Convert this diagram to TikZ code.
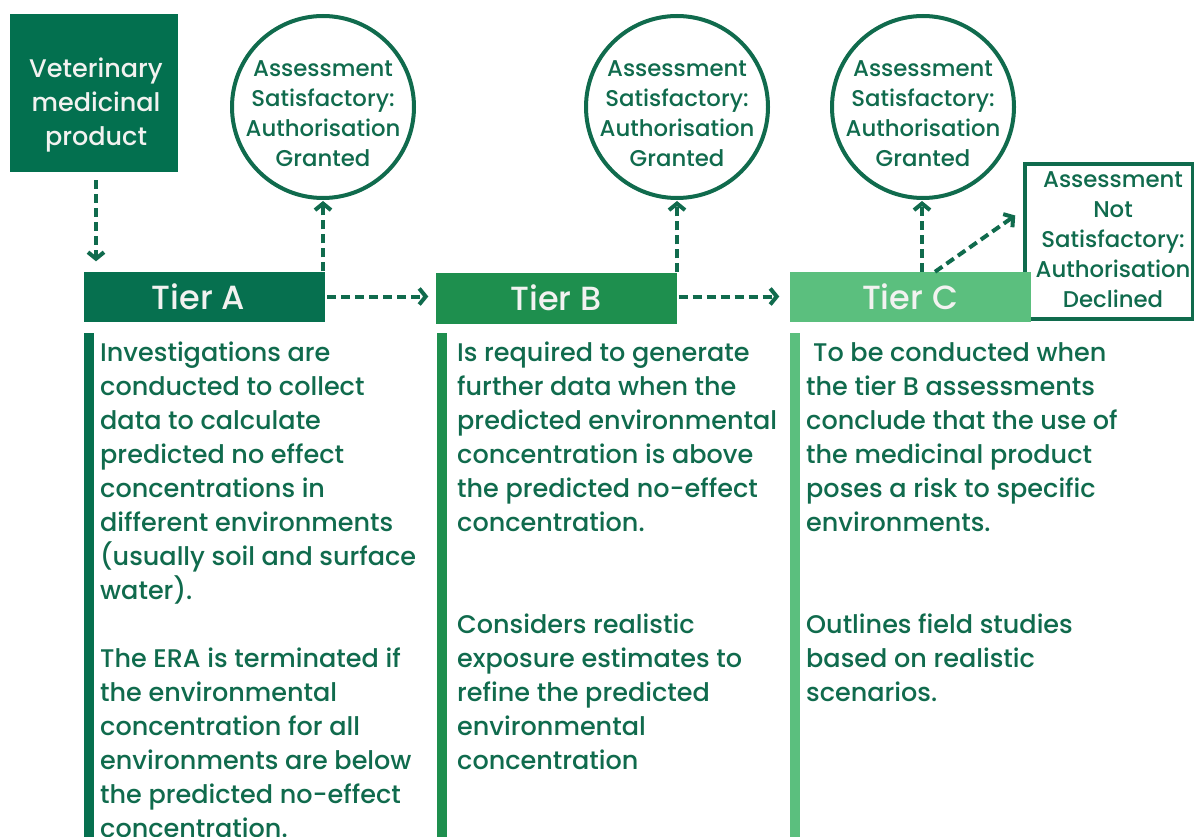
\documentclass[tikz,border=0pt]{standalone}
\usepackage{fontspec}
\IfFontExistsTF{Poppins Medium}{\setmainfont{Poppins Medium}}{\setmainfont{Poppins}}
\usetikzlibrary{arrows.meta}
\definecolor{vmpfill}{HTML}{03704F}
\definecolor{tierAc}{HTML}{06704F}
\definecolor{tierBc}{HTML}{1E8F4E}
\definecolor{tierCc}{HTML}{5BBF7E}
\definecolor{dk}{HTML}{106B4D}
\definecolor{lt}{HTML}{F2F2F0}
\begin{document}
\begin{tikzpicture}[x=1pt,y=-1pt,
  tierbox/.style={minimum width=241pt,minimum height=50pt,inner sep=0pt,text=lt,font=\fontsize{33.5}{34}\selectfont},
  okcirc/.style={circle,draw=dk,line width=4pt,fill=white,minimum size=182pt,inner sep=0pt},
  circtext/.style={align=center,text=dk,inner sep=0pt,font=\fontsize{22.8}{30}\selectfont},
  bodytext/.style={anchor=north west,align=left,text=dk,inner sep=0pt,font=\fontsize{25.5}{34}\selectfont},
  bar/.style={minimum width=10pt,minimum height=504pt,inner sep=0pt,anchor=north west},
  arr/.style={draw=dk,line width=4pt,dash pattern=on 9pt off 5pt,-{Straight Barb[length=6.5pt,width=16pt]}}
]
\useasboundingbox (0,0) rectangle (1194,837);
\fill[white] (0,0) rectangle (1194,837);

% top source box
\node[fill=vmpfill,minimum width=168pt,minimum height=158pt,inner sep=0pt] (vmp) at (94,93) {};
\node[align=center,text=lt,inner sep=0pt,font=\fontsize{25.5}{34}\selectfont] (vmpt) at (96,105) {Veterinary\\medicinal\\product};

% circles
\node[okcirc] (c1) at (323,107) {};
\node[circtext] (c1t) at (323,114) {Assessment\\Satisfactory:\\Authorisation\\Granted};
\node[okcirc] (c2) at (677,107) {};
\node[circtext] (c2t) at (677,114) {Assessment\\Satisfactory:\\Authorisation\\Granted};
\node[okcirc] (c3) at (923,107) {};
\node[circtext] (c3t) at (923,114) {Assessment\\Satisfactory:\\Authorisation\\Granted};

% not satisfactory box
\node[draw=dk,line width=3.5pt,fill=white,minimum width=168pt,minimum height=155pt,inner sep=0pt] (ns) at (1109,241.5) {};
\node[circtext] (nst) at (1113,240) {Assessment\\Not\\Satisfactory:\\Authorisation\\Declined};

% tier boxes
\node[tierbox,fill=tierAc] (tierA) at (204.5,296.5) {Tier A\hspace*{12pt}};
\node[tierbox,fill=tierBc,minimum height=51pt] (tierB) at (556,298) {Tier B};
\node[tierbox,fill=tierCc] (tierC) at (910,297) {Tier C};

% bars
\node[bar,fill=tierAc] (barA) at (84,333) {};
\node[bar,fill=tierBc] (barB) at (437,333) {};
\node[bar,fill=tierCc] (barC) at (790,333) {};

% body texts
\node[bodytext] (txtA) at (100,337) {\rule{0pt}{24pt}Investigations are\\
conducted to collect\\
data to calculate\\
predicted no effect\\
concentrations in\\
different environments\\
(usually soil and surface\\
water).\\[34pt]
The ERA is terminated if\\
the environmental\\
concentration for all\\
environments are below\\
the predicted no-effect\\
concentration.};
\node[bodytext] (txtB) at (457,337) {\rule{0pt}{24pt}Is required to generate\\
further data when the\\
predicted environmental\\
concentration is above\\
the predicted no-effect\\
concentration.\\[68pt]
Considers realistic\\
exposure estimates to\\
refine the predicted\\
environmental\\
concentration};
\node[bodytext] (txtC) at (806,337) {\rule{0pt}{24pt}\hspace{7pt}To be conducted when\\
the tier B assessments\\
conclude that the use of\\
the medicinal product\\
poses a risk to specific\\
environments.\\[68pt]
Outlines field studies\\
based on realistic\\
scenarios.};

% connectors
\draw[arr] ([xshift=2pt,yshift=-8pt]vmp.south) -- ([xshift=2pt,yshift=10pt]vmp.south |- tierA.north);
\draw[arr] (tierA.north -| c1.south) -- ([yshift=-1pt]c1.south);
\draw[arr] ([xshift=2pt]tierA.east) -- ([xshift=-7pt]tierB.west |- tierA.east);
\draw[arr] (tierB.north -| c2.south) -- ([yshift=-1pt]c2.south);
\draw[arr] ([xshift=2pt]tierB.east |- tierA.east) -- ([xshift=-10pt]tierC.west |- tierA.east);
\draw[arr] ([xshift=-1pt]tierC.north -| c3.south) -- ([xshift=-1pt,yshift=-1pt]c3.south);
\draw[arr] ([xshift=25pt]tierC.north) -- ([xshift=-8pt,yshift=26pt]ns.west);
\end{tikzpicture}
\end{document}
